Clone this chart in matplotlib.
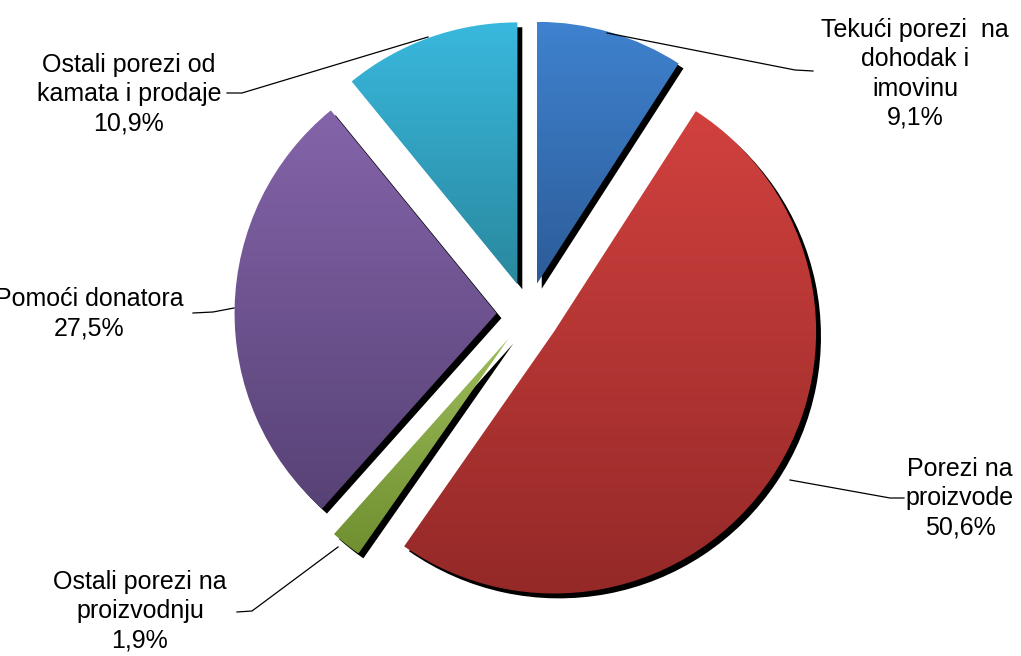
import numpy as np
import matplotlib
matplotlib.use('Agg')
import matplotlib.pyplot as plt
import matplotlib.patheffects as pe
from matplotlib.colors import LinearSegmentedColormap

plt.rcParams['font.family'] = ['Liberation Sans', 'DejaVu Sans']

# Data
labels = ['Tekući porezi  na\ndohodak i\nimovinu', 'Porezi na\nproizvode',
          'Ostali porezi na\nproizvodnju', 'Pomoći donatora',
          'Ostali porezi od\nkamata i prodaje']
shares = [9.1, 50.6, 1.9, 27.5, 10.9]
pct_text = ['9,1%', '50,6%', '1,9%', '27,5%', '10,9%']

# gradient colours per slice (top, bottom)
top_colors = ['#3f82cf', '#d1413e', '#9dbd5b', '#8464aa', '#39b8de']
bottom_colors = ['#2c5c98', '#942928', '#6f8f30', '#574275', '#2a889e']

W, H = 1021, 656
scale = 262.0          # pixels per unit radius
cx, cy = 528, 314      # pie centre in pixels


def to_data(px, py):
    return (px - cx) / scale, (cy - py) / scale


fig = plt.figure(figsize=(W / 100, H / 100), dpi=100)
ax = fig.add_axes([0, 0, 1, 1])
ax.set_aspect('equal')
ax.axis('off')

wedges, _ = ax.pie(shares, startangle=90, counterclock=False,
                   explode=[0.12] * len(shares), radius=1.0,
                   wedgeprops=dict(linewidth=0))

grad = np.linspace(1, 0, 256).reshape(-1, 1)
for w, c1, c2 in zip(wedges, top_colors, bottom_colors):
    w.set_facecolor('none')
    w.set_zorder(1)
    w.set_path_effects([pe.SimplePatchShadow(offset=(3.5, -3.5), shadow_rgbFace='black',
                                             alpha=1.0), pe.Normal()])
    verts = w.get_path().vertices
    x0, x1 = verts[:, 0].min(), verts[:, 0].max()
    y0, y1 = verts[:, 1].min(), verts[:, 1].max()
    cmap = LinearSegmentedColormap.from_list('g', [c2, c1])
    im = ax.imshow(grad, cmap=cmap, extent=(x0, x1, y0, y1), aspect='auto',
                   origin='upper', zorder=2, interpolation='bilinear')
    im.set_clip_path(w)

ax.set_xlim(-cx / scale, (W - cx) / scale)
ax.set_ylim((cy - H) / scale, cy / scale)

# label positions (pixels) and leader lines
label_pos = [(915, 74), (960, 498), (140, 611), (89, 314), (129, 94)]
leaders = [
    [(607, 33), (795, 70), (813, 71)],
    [(790, 480), (890, 498), (904, 498)],
    [(338, 547), (252, 611), (237, 612)],
    [(234, 308), (213, 312), (193, 313)],
    [(428, 37), (242, 93), (227, 93)],
]

for lab, pct, (px, py), pts in zip(labels, pct_text, label_pos, leaders):
    x, y = to_data(px, py)
    ax.text(x, y, lab + '\n' + pct, ha='center', va='center', fontsize=18,
            linespacing=1.27, color='black', zorder=5)
    xs, ys = zip(*[to_data(a, b) for a, b in pts])
    ax.plot(xs, ys, color='black', lw=0.9, zorder=4)

fig.savefig('out.png', dpi=100)
